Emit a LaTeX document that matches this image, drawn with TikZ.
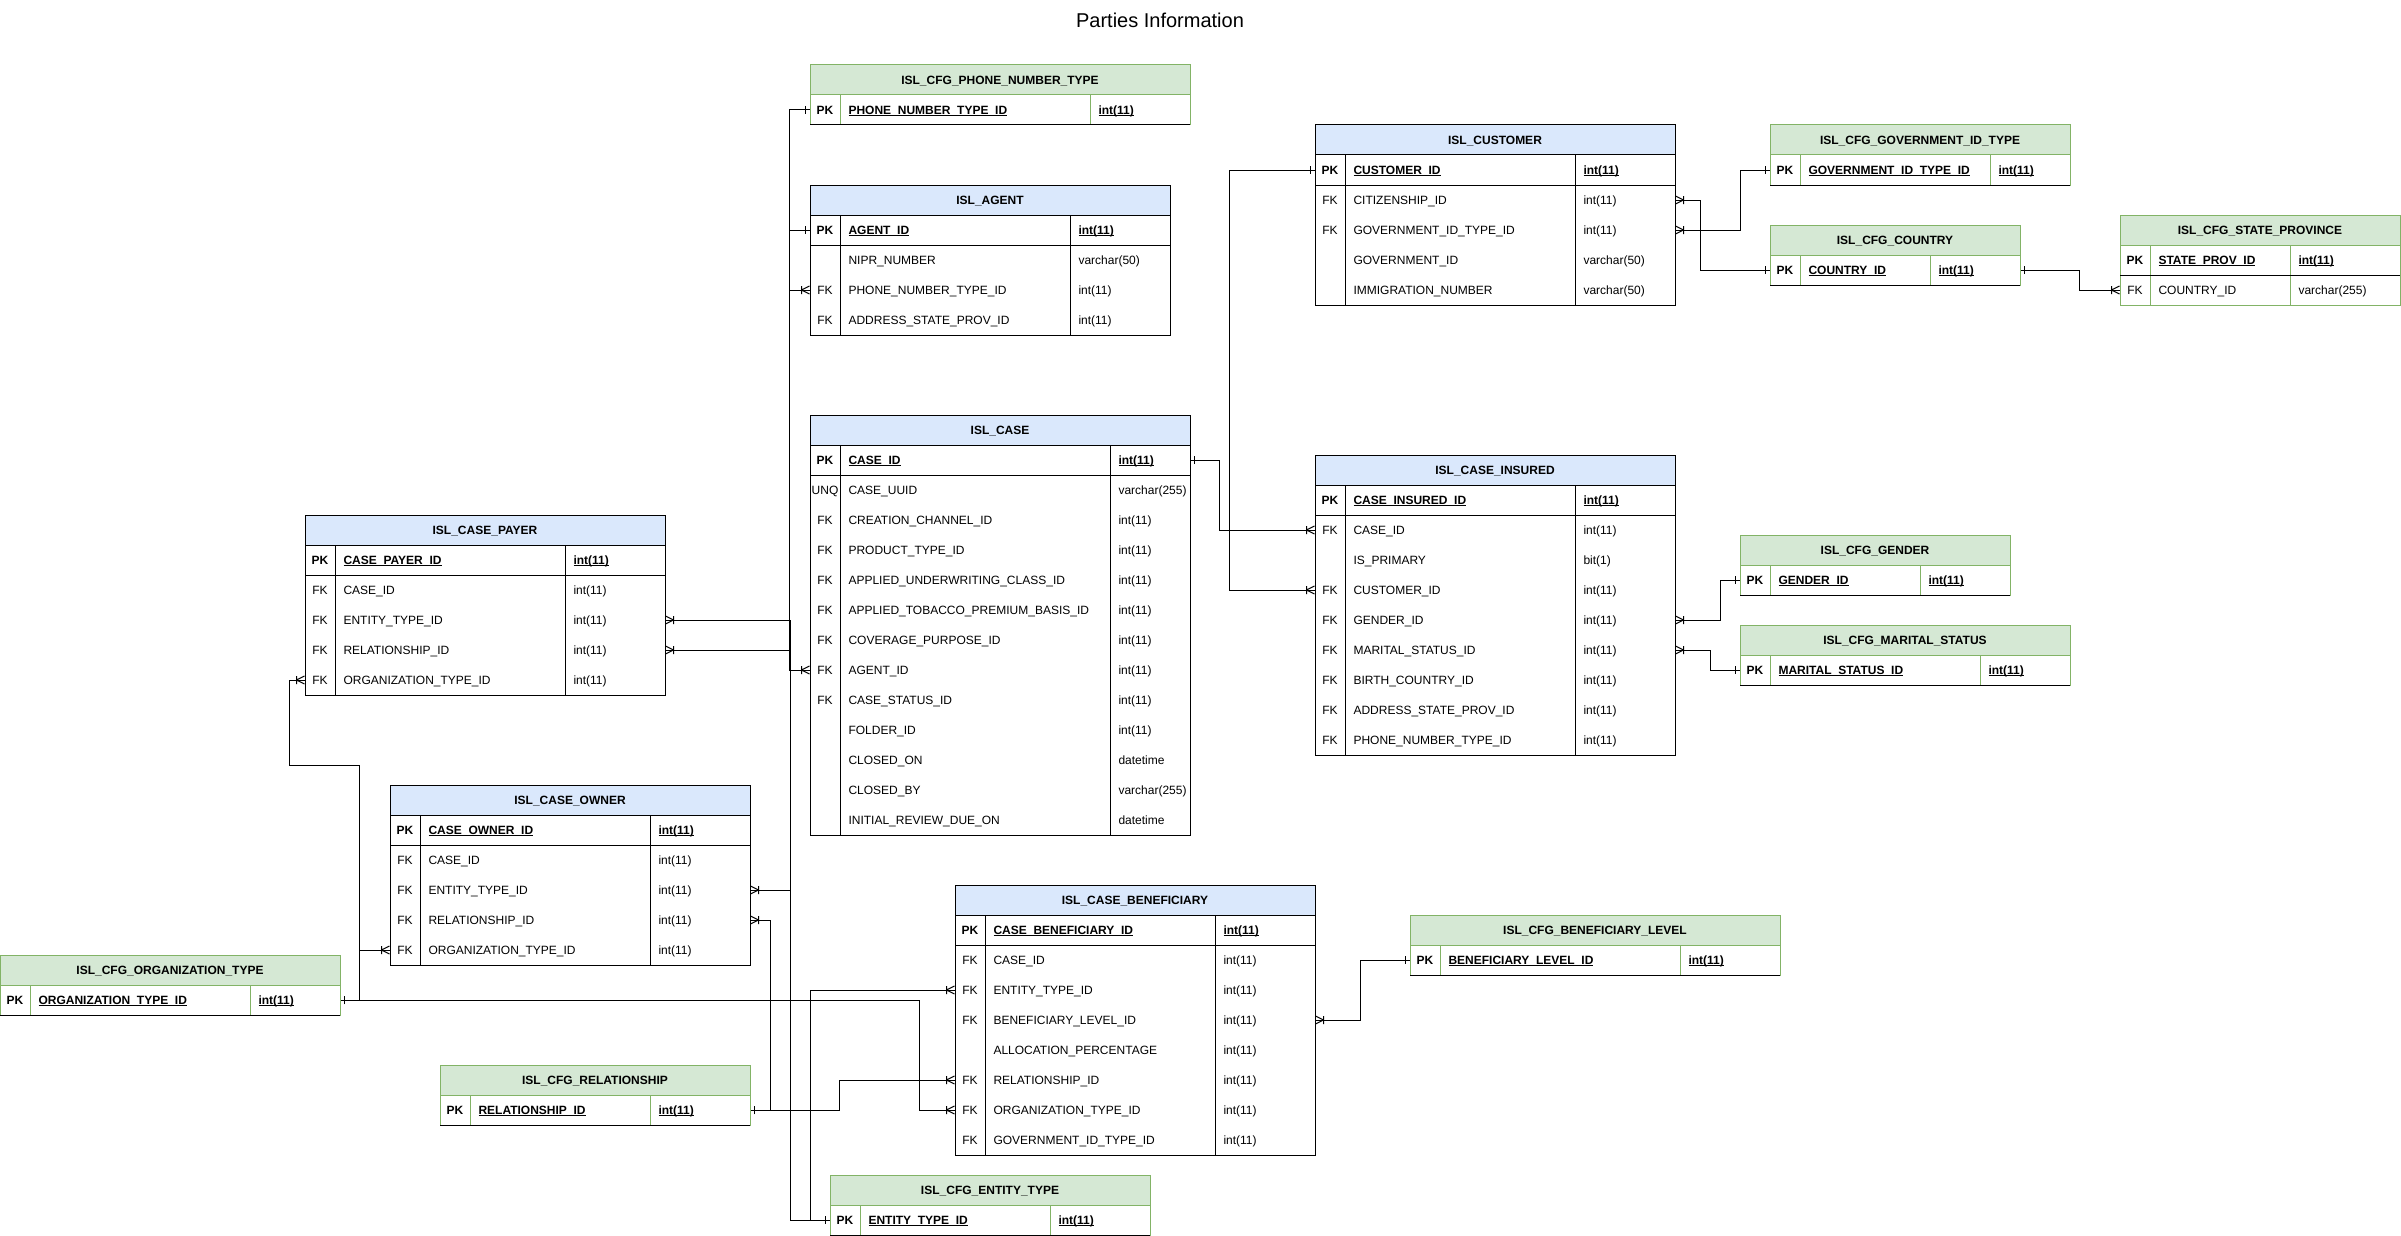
\documentclass[tikz,border=0pt]{standalone}
\usepackage{fontspec}
\setmainfont{Liberation Sans}
\usetikzlibrary{decorations.markings}

\definecolor{bluefill}{HTML}{DAE8FC}
\definecolor{greenfill}{HTML}{D5E8D4}
\definecolor{greenline}{HTML}{82B366}

% underline for the primary key cells
\newcommand{\pkul}[1]{\setbox0=\hbox{#1}\rlap{\rule[-2pt]{\wd0}{0.9pt}}\box0}

\tikzset{
  blue head/.style={draw=black, fill=bluefill},
  green head/.style={draw=greenline, fill=greenfill},
  blue line/.style={draw=black},
  green line/.style={draw=greenline},
  headtxt/.style={font=\bfseries, inner sep=0pt, text height=8.6pt, text depth=0pt},
  keytxt/.style={inner sep=0pt, text height=8.6pt, text depth=0pt},
  fldtxt/.style={anchor=west, inner sep=0pt, text height=8.6pt, text depth=0pt},
  rowbox/.style={inner sep=0pt, minimum height=30pt},
  erlink/.style={draw, postaction={decorate}, decoration={markings,
      mark=at position 8pt with {\draw (0,-4) -- (0,4) (0,0) -- (-8,4) (0,0) -- (-8,-4);},
      mark=at position -4pt with {\draw (0,-4) -- (0,4);}}},
}

% #1 name, #2 x, #3 y (top), #4 field column, #5 type column,
% #6 colour (blue/green), #7 title, #8 primary key, #9 other rows
\newcommand{\ertable}[9]{%
  \pgfmathsetmacro\tw{30+#4+#5}
  % Header bar with the table name.
  \draw[#6 head] (#2,#3) rectangle ++(\tw,30);
  \node[headtxt] (#1-h) at (#2+\tw/2,#3+15) {#7};
  % Primary key row.
  \node[rowbox, minimum width=\tw pt] (#1-0) at (#2+\tw/2,#3+45) {};
  \node[keytxt, font=\bfseries] (#1-k0) at (#2+15,#3+45) {PK};
  \node[fldtxt, font=\bfseries] (#1-f0) at (#2+38,#3+45) {\pkul{#8}};
  \node[fldtxt, font=\bfseries] (#1-t0) at (#2+38+#4,#3+45) {\pkul{int(11)}};
  % Remaining columns, one row each.
  \xdef\nrows{0}
  \if\relax\detokenize{#9}\relax\else
  \foreach \ky/\fd/\tp [count=\i] in {#9} {
    \node[rowbox, minimum width=\tw pt] (#1-\i) at (#2+\tw/2,#3+45+30*\i) {};
    \node[keytxt] (#1-k\i) at (#2+15,#3+45+30*\i) {\ky};
    \node[fldtxt] (#1-f\i) at (#2+38,#3+45+30*\i) {\fd};
    \node[fldtxt] (#1-t\i) at (#2+38+#4,#3+45+30*\i) {\tp};
    \xdef\nrows{\i}
  }
  \fi
  % Frame, column rules and the line under the key.
  \pgfmathsetmacro\tb{#3+60+30*\nrows}
  \draw[#6 line] (#2,#3+30) rectangle (#2+\tw,\tb)
    (#2+30,#3+30) -- (#2+30,\tb) (#2+30+#4,#3+30) -- (#2+30+#4,\tb);
  \draw (#2,#3+60) -- ++(\tw,0);
}

\begin{document}
\fontsize{12}{14}\selectfont
\begin{tikzpicture}[x=1pt, y=-1pt, line width=1pt]
  \useasboundingbox (0,0) rectangle (2401,1236);
  \node[font=\fontsize{20}{24}\selectfont] (title) at (1160,20) {Parties Information};

  % Main tables.
  \ertable{agent}{810}{185}{230}{100}{blue}{ISL\_AGENT}{AGENT\_ID}{
    /NIPR\_NUMBER/varchar(50), FK/PHONE\_NUMBER\_TYPE\_ID/int(11),
    FK/ADDRESS\_STATE\_PROV\_ID/int(11)}
  \ertable{case}{810}{415}{270}{80}{blue}{ISL\_CASE}{CASE\_ID}{
    UNQ/CASE\_UUID/varchar(255), FK/CREATION\_CHANNEL\_ID/int(11),
    FK/PRODUCT\_TYPE\_ID/int(11), FK/APPLIED\_UNDERWRITING\_CLASS\_ID/int(11),
    FK/APPLIED\_TOBACCO\_PREMIUM\_BASIS\_ID/int(11), FK/COVERAGE\_PURPOSE\_ID/int(11),
    FK/AGENT\_ID/int(11), FK/CASE\_STATUS\_ID/int(11), /FOLDER\_ID/int(11),
    /CLOSED\_ON/datetime, /CLOSED\_BY/varchar(255), /INITIAL\_REVIEW\_DUE\_ON/datetime}
  \ertable{cust}{1315}{125}{230}{100}{blue}{ISL\_CUSTOMER}{CUSTOMER\_ID}{
    FK/CITIZENSHIP\_ID/int(11), FK/GOVERNMENT\_ID\_TYPE\_ID/int(11),
    /GOVERNMENT\_ID/varchar(50), /IMMIGRATION\_NUMBER/varchar(50)}
  \ertable{ins}{1315}{455}{230}{100}{blue}{ISL\_CASE\_INSURED}{CASE\_INSURED\_ID}{
    FK/CASE\_ID/int(11), /IS\_PRIMARY/bit(1), FK/CUSTOMER\_ID/int(11),
    FK/GENDER\_ID/int(11), FK/MARITAL\_STATUS\_ID/int(11), FK/BIRTH\_COUNTRY\_ID/int(11),
    FK/ADDRESS\_STATE\_PROV\_ID/int(11), FK/PHONE\_NUMBER\_TYPE\_ID/int(11)}
  \ertable{payer}{305}{515}{230}{100}{blue}{ISL\_CASE\_PAYER}{CASE\_PAYER\_ID}{
    FK/CASE\_ID/int(11), FK/ENTITY\_TYPE\_ID/int(11), FK/RELATIONSHIP\_ID/int(11),
    FK/ORGANIZATION\_TYPE\_ID/int(11)}
  \ertable{owner}{390}{785}{230}{100}{blue}{ISL\_CASE\_OWNER}{CASE\_OWNER\_ID}{
    FK/CASE\_ID/int(11), FK/ENTITY\_TYPE\_ID/int(11), FK/RELATIONSHIP\_ID/int(11),
    FK/ORGANIZATION\_TYPE\_ID/int(11)}
  \ertable{ben}{955}{885}{230}{100}{blue}{ISL\_CASE\_BENEFICIARY}{CASE\_BENEFICIARY\_ID}{
    FK/CASE\_ID/int(11), FK/ENTITY\_TYPE\_ID/int(11), FK/BENEFICIARY\_LEVEL\_ID/int(11),
    /ALLOCATION\_PERCENTAGE/int(11), FK/RELATIONSHIP\_ID/int(11),
    FK/ORGANIZATION\_TYPE\_ID/int(11), FK/GOVERNMENT\_ID\_TYPE\_ID/int(11)}

  % Config (lookup) tables.
  \ertable{phone}{810}{65}{250}{100}{green}{ISL\_CFG\_PHONE\_NUMBER\_TYPE}{PHONE\_NUMBER\_TYPE\_ID}{}
  \ertable{govid}{1770}{125}{190}{80}{green}{ISL\_CFG\_GOVERNMENT\_ID\_TYPE}{GOVERNMENT\_ID\_TYPE\_ID}{}
  \ertable{country}{1770}{225}{130}{90}{green}{ISL\_CFG\_COUNTRY}{COUNTRY\_ID}{}
  \ertable{state}{2120}{215}{140}{110}{green}{ISL\_CFG\_STATE\_PROVINCE}{STATE\_PROV\_ID}{
    FK/COUNTRY\_ID/varchar(255)}
  \ertable{gender}{1740}{535}{150}{90}{green}{ISL\_CFG\_GENDER}{GENDER\_ID}{}
  \ertable{marital}{1740}{625}{210}{90}{green}{ISL\_CFG\_MARITAL\_STATUS}{MARITAL\_STATUS\_ID}{}
  \ertable{benlvl}{1410}{915}{240}{100}{green}{ISL\_CFG\_BENEFICIARY\_LEVEL}{BENEFICIARY\_LEVEL\_ID}{}
  \ertable{org}{0}{955}{220}{90}{green}{ISL\_CFG\_ORGANIZATION\_TYPE}{ORGANIZATION\_TYPE\_ID}{}
  \ertable{rel}{440}{1065}{180}{100}{green}{ISL\_CFG\_RELATIONSHIP}{RELATIONSHIP\_ID}{}
  \ertable{entity}{830}{1175}{190}{100}{green}{ISL\_CFG\_ENTITY\_TYPE}{ENTITY\_TYPE\_ID}{}

  % Vertical buses left of ISL_CASE.
  \coordinate (busL) at (790,0);
  \coordinate (busE) at (810,0);

  % Relations, drawn from the many side to the one side.
  \draw[erlink] (agent-2.west) -- ++(-20,0) |- (phone-0.west);
  \draw[erlink] (case-7.west) -- ++(-20,0) |- (agent-0.west);
  % ISL_CASE_PAYER
  \draw[erlink] (payer-2.east) -- (payer-2.east -| busL) |- (entity-0.west);
  \draw[erlink] (payer-3.east) -- (payer-3.east -| busL) |- (rel-0.east);
  \draw[erlink] (payer-4.west) -- ++(-15,0) -- ++(0,85) -- ++(70,0) |- (org-0.east);
  % ISL_CASE_OWNER
  \draw[erlink] (owner-2.east) -- (owner-2.east -| busL) |- (entity-0.west);
  \draw[erlink] (owner-3.east) -- ++(20,0) |- (rel-0.east);
  \draw[erlink] (owner-4.west) -- ++(-30,0) |- (org-0.east);
  % ISL_CASE_BENEFICIARY
  \draw[erlink] (ben-2.west) -- (ben-2.west -| busE) |- (entity-0.west);
  \draw[erlink] (ben-3.east) -- ++(45,0) |- (benlvl-0.west);
  \draw[erlink] (ben-5.west) -- ++(-115,0) |- (rel-0.east);
  \draw[erlink] (ben-6.west) -- ++(-35,0) |- (org-0.east);
  % ISL_CASE_INSURED
  \draw[erlink] (ins-1.west) -- ++(-95,0) |- (case-0.east);
  \draw[erlink] (ins-3.west) -- ++(-85,0) |- (cust-0.west);
  \draw[erlink] (ins-4.east) -- ++(45,0) |- (gender-0.west);
  \draw[erlink] (ins-5.east) -- ++(35,0) |- (marital-0.west);
  % ISL_CUSTOMER and ISL_CFG_STATE_PROVINCE
  \draw[erlink] (cust-1.east) -- ++(25,0) |- (country-0.west);
  \draw[erlink] (cust-2.east) -- ++(65,0) |- (govid-0.west);
  \draw[erlink] (state-1.west) -- ++(-40,0) |- (country-0.east);
\end{tikzpicture}
\end{document}
